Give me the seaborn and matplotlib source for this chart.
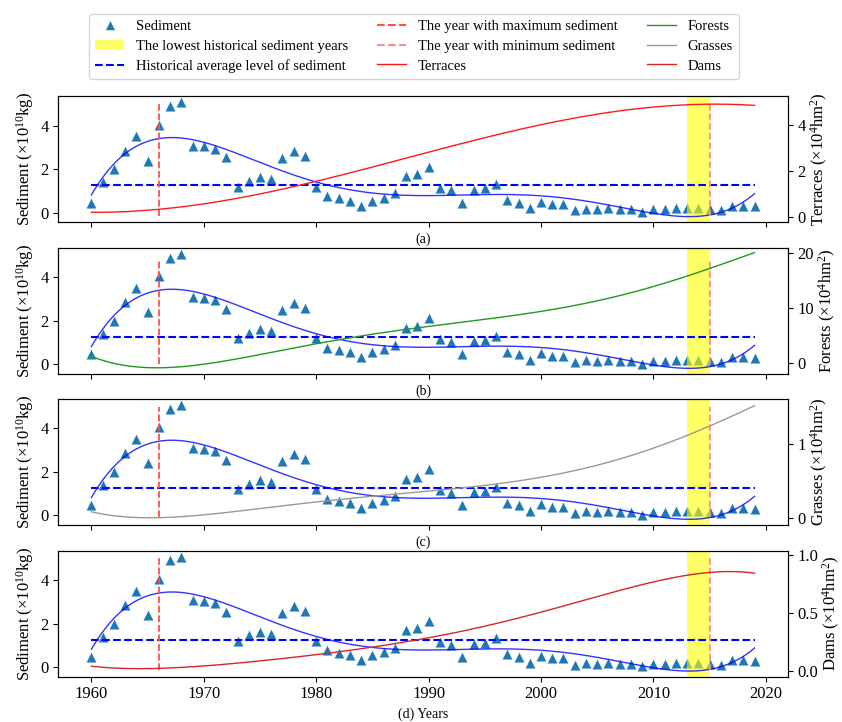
import numpy as np
import matplotlib
matplotlib.use("Agg")
import matplotlib.pyplot as plt
import seaborn as sns
from matplotlib.lines import Line2D
from matplotlib.patches import Patch

# ---------------- data ----------------
years = np.arange(1960, 2020)
sediment = [0.45, 1.40, 2.00, 2.85, 3.52, 2.40, 4.06, 4.92, 5.09, 3.08,
            3.05, 2.94, 2.55, 1.20, 1.46, 1.62, 1.54, 2.51, 2.82, 2.60,
            1.20, 0.77, 0.65, 0.55, 0.32, 0.55, 0.69, 0.89, 1.69, 1.78,
            2.12, 1.15, 1.02, 0.46, 1.05, 1.11, 1.32, 0.58, 0.46, 0.20,
            0.50, 0.40, 0.40, 0.10, 0.18, 0.15, 0.20, 0.15, 0.15, 0.03,
            0.15, 0.15, 0.20, 0.20, 0.20, 0.15, 0.10, 0.32, 0.32, 0.28]

factor_years = [1960, 1965, 1970, 1975, 1980, 1985, 1990, 1995, 2000, 2005, 2010, 2015, 2019]
terraces = [0.17, 0.33, 0.54, 0.95, 1.55, 2.20, 2.84, 3.46, 4.00, 4.48, 4.80, 4.95, 4.86]
forests = [1.10, -0.80, -0.35, 1.40, 3.50, 5.20, 6.60, 7.90, 9.40, 11.20, 13.80, 17.30, 20.00]
grasses = [0.08, -0.005, 0.035, 0.125, 0.215, 0.29, 0.35, 0.44, 0.54, 0.71, 0.955, 1.22, 1.52]
dams = [0.04, 0.024, 0.04, 0.085, 0.145, 0.205, 0.285, 0.39, 0.51, 0.64, 0.77, 0.855, 0.845]

factor_names = ["Terraces", "Forests", "Grasses", "Dams"]
factor_values = [terraces, forests, grasses, dams]
factor_colors = ["#ff1a1a", "#1f9a1f", "#999999", "#d62728"]
panel_tags = ["(a)", "(b)", "(c)", "(d) Years"]

max_year = 1966
min_year = 2015
low_years = (2013, 2015)
vline_extent = [(-0.18, 5.08), (0.0, 4.75), (-0.08, 4.99), (-0.15, 5.12)]

right_ylims = [(-0.25, 5.27), (-2.07, 20.9), (-0.1, 1.605), (-0.05, 1.04)]
right_ticks = [[0, 2, 4], [0, 10, 20], [0, 1], [0.0, 0.5, 1.0]]

# ---------------- style ----------------
plt.rcParams["font.family"] = ["Liberation Serif", "DejaVu Serif"]
plt.rcParams["mathtext.default"] = "regular"

sed_color = "#1f77b4"
max_color = "#ff4d4d"
min_color = "#ff8c8c"

fig = plt.figure(figsize=(8.42, 7.22), dpi=100)
bottoms = [0.6921, 0.4820, 0.2729, 0.0627]
left, width, height = 0.0692, 0.8663, 0.1745

yrs = np.asarray(years, dtype=float)
sed = np.asarray(sediment)
coef = np.polyfit(yrs - 1990, sed, 5)
fine = np.linspace(1960, 2019, 400)
fit = np.polyval(coef, fine - 1990)
avg = sed.mean()

for i in range(4):
    ax = fig.add_axes([left, bottoms[i], width, height])
    sns.scatterplot(x=years, y=sediment, ax=ax, marker="^", s=60,
                    color=sed_color, edgecolor="white", linewidth=0.4,
                    zorder=2, legend=False)
    ax.axvspan(low_years[0], low_years[1], color="yellow", alpha=0.6,
               lw=0, zorder=2.5)
    sns.lineplot(x=fine, y=fit, ax=ax, color="blue", alpha=0.8, lw=1.0,
                 zorder=3)
    ax.hlines(avg, 1960, 2019, colors="blue", linestyles="--", lw=1.5,
              zorder=3)
    y0, y1 = vline_extent[i]
    ax.vlines(max_year, y0, y1, colors=max_color, linestyles="--", lw=1.3,
              zorder=3)
    ax.vlines(min_year, y0, y1, colors=min_color, linestyles="--", lw=1.3,
              zorder=3)
    ax.set_xlim(1957.05, 2021.95)
    ax.set_ylim(-0.45, 5.36)
    ax.set_xticks([1960, 1970, 1980, 1990, 2000, 2010, 2020])
    ax.set_yticks([0, 2, 4])
    ax.tick_params(labelsize=12)
    ax.set_ylabel("Sediment (×10$^{10}$kg)", fontsize=12, labelpad=3)
    ax.set_xlabel(panel_tags[i], fontsize=10)
    if i < 3:
        ax.tick_params(labelbottom=False)

    tw = ax.twinx()
    fc = np.polyfit(np.asarray(factor_years) - 1990, factor_values[i], 5)
    sns.lineplot(x=fine, y=np.polyval(fc, fine - 1990), ax=tw,
                 color=factor_colors[i], lw=1.0)
    tw.set_ylim(*right_ylims[i])
    tw.set_yticks(right_ticks[i])
    tw.tick_params(labelsize=12)
    tw.set_ylabel(factor_names[i] + " (×10$^{4}$hm$^{2}$)", fontsize=12,
                  labelpad=2)

handles = [
    Line2D([], [], marker="^", ls="none", color=sed_color, markersize=7,
           markeredgecolor="white", markeredgewidth=0.4),
    Patch(facecolor="yellow", alpha=0.6, lw=0),
    Line2D([], [], color="blue", ls="--", lw=1.5),
    Line2D([], [], color=max_color, ls="--", lw=1.5),
    Line2D([], [], color=min_color, ls="--", lw=1.5),
    Line2D([], [], color=factor_colors[0], lw=1.0),
    Line2D([], [], color=factor_colors[1], lw=1.0),
    Line2D([], [], color=factor_colors[2], lw=1.0),
    Line2D([], [], color=factor_colors[3], lw=1.0),
]
labels = ["Sediment", "The lowest historical sediment years",
          "Historical average level of sediment",
          "The year with maximum sediment", "The year with minimum sediment",
          "Terraces", "Forests", "Grasses", "Dams"]
fig.legend(handles, labels, ncol=3, loc="center",
           bbox_to_anchor=(0.4917, 0.9356), fontsize=10.5,
           labelspacing=0.45)

fig.savefig("out.png", dpi=100)
